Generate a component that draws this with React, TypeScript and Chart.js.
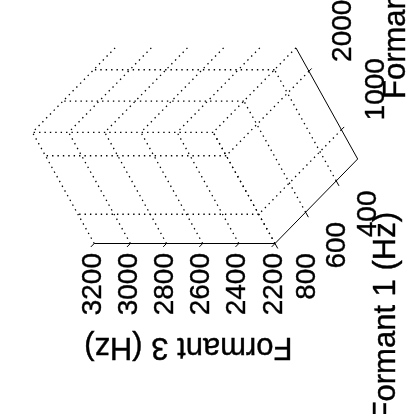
import React, { useEffect, useRef } from "react";
import { Chart, registerables } from "chart.js";

Chart.register(...registerables);

// ---- data ----
const formant1Ticks = [400, 600, 800];
const formant2Ticks = [1000, 2000];
const formant3Ticks = [2200, 2400, 2600, 2800, 3000, 3200];
const formant1Limits = [260, 800];
const formant2Limits = [500, 2400];
const formant3Limits = [2200, 3200];
const axisTitles = ["Formant 1 (Hz)", "Formant 2 (Hz)", "Formant 3 (Hz)"];

// ---- view: orthographic projection of the 3-D box onto the (rotated) page ----
const ORIGIN = { x: 275, y: 243.5 }; // page point of (F1 max, F2 min, F3 min)
const DIR1 = { x: -0.1531, y: 0.1565 }; // page units per Hz of Formant 1
const DIR2 = { x: -0.0325, y: -0.0585 }; // per Hz of Formant 2
const DIR3 = { x: -0.1808, y: 0 }; // per Hz of Formant 3

const TICK_FONT = "28px 'Liberation Sans', Arial, sans-serif";
const LABEL_FONT = "31px 'Liberation Sans', Arial, sans-serif";

type P = { x: number; y: number };

function project(f1: number, f2: number, f3: number): P {
  const d1 = f1 - formant1Limits[1];
  const d2 = f2 - formant2Limits[0];
  const d3 = f3 - formant3Limits[0];
  return {
    x: ORIGIN.x + DIR1.x * d1 + DIR2.x * d2 + DIR3.x * d3,
    y: ORIGIN.y + DIR1.y * d1 + DIR2.y * d2 + DIR3.y * d3,
  };
}

type Seg = [number[], number[]];

function buildGrid(): Seg[] {
  const [a0, a1] = formant1Limits;
  const [b0, b1] = formant2Limits;
  const [c0, c1] = formant3Limits;
  const segs: Seg[] = [];
  // back wall F1 = max
  formant3Ticks.forEach((t) => segs.push([[a1, b0, t], [a1, b1, t]]));
  formant2Ticks.forEach((v) => segs.push([[a1, v, c0], [a1, v, c1]]));
  // back wall F2 = max
  formant3Ticks.forEach((t) => segs.push([[a0, b1, t], [a1, b1, t]]));
  formant1Ticks.forEach((u) => segs.push([[u, b1, c0], [u, b1, c1]]));
  // floor F3 = min
  formant1Ticks.forEach((u) => segs.push([[u, b0, c0], [u, b1, c0]]));
  formant2Ticks.forEach((v) => segs.push([[a0, v, c0], [a1, v, c0]]));
  return segs;
}

function buildAxes(): Seg[] {
  const [a0, a1] = formant1Limits;
  const [b0, b1] = formant2Limits;
  const [c0, c1] = formant3Limits;
  const segs: Seg[] = [];
  segs.push([[a1, b0, c0], [a1, b0, c1]]); // Formant 3 axis
  segs.push([[a1, b0, c0], [a0, b0, c0]]); // Formant 1 axis
  segs.push([[a0, b0, c0], [a0, b1, c0]]); // Formant 2 axis
  // ticks
  formant3Ticks.forEach((t) => segs.push([[a1, b0, t], [a1 + 22, b0, t]]));
  formant1Ticks.forEach((u) => segs.push([[u, b0, c0], [u, b0 - 85, c0]]));
  formant2Ticks.forEach((v) => segs.push([[a0, v, c0], [a0 - 18, v, c0]]));
  return segs;
}

function segDataset(s: Seg, dotted: boolean) {
  const p = project(s[0][0], s[0][1], s[0][2]);
  const q = project(s[1][0], s[1][1], s[1][2]);
  return {
    type: "scatter" as const,
    data: [
      { x: p.x, y: p.y },
      { x: q.x, y: q.y },
    ],
    showLine: true,
    borderColor: "#000000",
    backgroundColor: "#000000",
    borderWidth: dotted ? 1.3 : 1,
    borderDash: dotted ? [1.4, 4] : [],
    borderCapStyle: "butt" as const,
    pointRadius: 0,
    pointHoverRadius: 0,
    fill: false,
    clip: false as any,
  };
}

const textPlugin = {
  id: "textPlugin",
  afterDraw(chart: any) {
    const ctx: CanvasRenderingContext2D = chart.ctx;
    const sx = chart.scales.x;
    const sy = chart.scales.y;
    const px = (p: P) => ({ x: sx.getPixelForValue(p.x), y: sy.getPixelForValue(p.y) });
    const draw = (
      text: string,
      x: number,
      y: number,
      rot: number,
      align: CanvasTextAlign,
      font: string
    ) => {
      ctx.save();
      ctx.translate(x, y);
      ctx.rotate(rot);
      ctx.font = font;
      ctx.fillStyle = "#000000";
      ctx.strokeStyle = "#000000";
      ctx.lineWidth = 0.4;
      ctx.textAlign = align;
      ctx.textBaseline = "alphabetic";
      ctx.fillText(text, 0, 0);
      ctx.strokeText(text, 0, 0);
      ctx.restore();
    };
    const [a0, a1] = formant1Limits;
    const [b0] = formant2Limits;
    const [c0] = formant3Limits;
    // Formant 3 tick labels
    formant3Ticks.forEach((t) => {
      const p = px(project(a1, b0, t));
      draw(String(t), p.x + 6.6, p.y + 9.5, -Math.PI / 2, "right", TICK_FONT);
    });
    // Formant 1 tick labels
    formant1Ticks.forEach((u) => {
      const p = px(project(u, b0, c0));
      draw(String(u), p.x + 39.5, p.y + 33, -Math.PI / 2, "center", TICK_FONT);
    });
    // Formant 2 tick labels
    formant2Ticks.forEach((v) => {
      const p = px(project(a0, v, c0));
      draw(String(v), p.x + 42.3, p.y - 40.5, -Math.PI / 2, "center", TICK_FONT);
    });
    // axis titles
    draw(axisTitles[0], 395, 212, -Math.PI / 2, "right", LABEL_FONT);
    draw(axisTitles[1], 405, 99, -Math.PI / 2, "left", LABEL_FONT);
    draw(axisTitles[2], 188.3, 338, Math.PI, "center", LABEL_FONT);
  },
};

export default function App() {
  const ref = useRef<HTMLCanvasElement | null>(null);
  useEffect(() => {
    const canvas = ref.current;
    if (!canvas) return;
    document.body.style.margin = "0";
    const datasets: any[] = [
      ...buildGrid().map((s) => segDataset(s, true)),
      ...buildAxes().map((s) => segDataset(s, false)),
    ];
    const chart = new Chart(canvas, {
      type: "scatter",
      data: { datasets },
      options: {
        animation: false,
        responsive: false,
        events: [],
        layout: { padding: 0 },
        plugins: {
          legend: { display: false },
          tooltip: { enabled: false },
          title: { display: false },
        },
        scales: {
          x: { type: "linear", min: 0, max: 414, display: false },
          y: { type: "linear", min: 0, max: 414, reverse: true, display: false },
        },
      },
      plugins: [textPlugin],
    });
    return () => chart.destroy();
  }, []);
  return (
    <div style={{ position: "fixed", left: 0, top: 0, width: 414, height: 414, background: "#fff" }}>
      <canvas ref={ref} width={414} height={414} style={{ display: "block" }} />
    </div>
  );
}
